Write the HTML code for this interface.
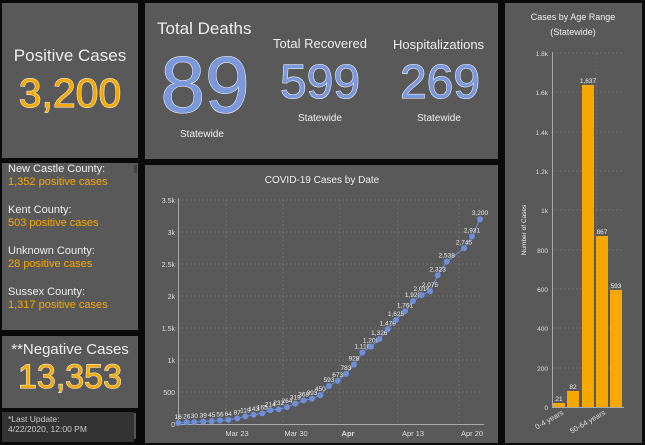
<!DOCTYPE html>
<html><head><meta charset="utf-8"><style>
body{margin:0;width:645px;height:445px;background:#0a0a0a;position:relative;overflow:hidden;font-family:"Liberation Sans",sans-serif;color:#eee}
.p{position:absolute;background:#595959}
.t{position:absolute;white-space:nowrap;text-align:center}
.big{font-weight:400;-webkit-text-stroke:1px #fff;paint-order:stroke fill}
.or{color:#f7a800}.bl{color:#7b98dc}
.cy{font-size:11px;line-height:13px;margin-bottom:15px}
</style></head><body>
<div class="p" style="left:2px;top:3px;width:136px;height:155px"></div>
<div class="t" style="left:2px;top:46px;width:136px;font-size:17px">Positive Cases</div>
<div class="t big or" style="left:2px;top:70px;width:136px;font-size:41px">3,200</div>

<div class="p" style="left:145px;top:3px;width:353px;height:156px"></div>
<div class="t" style="left:157px;top:19px;font-size:17px">Total Deaths</div>
<div class="t big bl" style="left:155px;top:40px;width:100px;font-size:80px;line-height:90px">89</div>
<div class="t" style="left:180px;top:129px;font-size:10px">Statewide</div>
<div class="t" style="left:273px;top:36px;font-size:13px">Total Recovered</div>
<div class="t big bl" style="left:270px;top:55px;width:100px;font-size:48px;line-height:56px">599</div>
<div class="t" style="left:298px;top:113px;font-size:10px">Statewide</div>
<div class="t" style="left:393px;top:37px;font-size:13px">Hospitalizations</div>
<div class="t big bl" style="left:390px;top:55px;width:100px;font-size:48px;line-height:56px">269</div>
<div class="t" style="left:417px;top:113px;font-size:10px">Statewide</div>

<div class="p" style="left:2px;top:163px;width:136px;height:167px"></div>
<div style="position:absolute;left:8px;top:163px">
<div class="cy">New Castle County:<br><span class="or">1,352 positive cases</span></div>
<div class="cy">Kent County:<br><span class="or">503 positive cases</span></div>
<div class="cy">Unknown County:<br><span class="or">28 positive cases</span></div>
<div class="cy">Sussex County:<br><span class="or">1,317 positive cases</span></div>
</div>
<div style="position:absolute;left:134px;top:165px;width:3px;height:8px;background:#444"></div>

<div class="p" style="left:2px;top:336px;width:136px;height:72px"></div>
<div class="t" style="left:2px;top:341px;width:136px;font-size:15px">**Negative Cases</div>
<div class="t big or" style="left:2px;top:358px;width:136px;font-size:34px">13,353</div>

<div class="p" style="left:2px;top:412px;width:132px;height:30px;background:#333"></div>
<div style="position:absolute;left:134px;top:413px;width:2px;height:26px;background:#555"></div>
<div style="position:absolute;left:8px;top:414px;font-size:8.5px;line-height:10px;color:#ccc">*Last Update:<br>4/22/2020, 12:00 PM</div>

<div class="p" style="left:145px;top:165px;width:353px;height:278px"></div>
<div class="p" style="left:505px;top:3px;width:137px;height:440px"></div>

<svg width="645" height="445" style="position:absolute;left:0;top:0" font-family="Liberation Sans,sans-serif">
<text x="322" y="183" fill="#eee" font-size="10" text-anchor="middle">COVID-19 Cases by Date</text>
<g stroke="#777" stroke-dasharray="2,2" stroke-width="0.7">
<line x1="178" x2="482" y1="200" y2="200"/><line x1="178" x2="482" y1="232" y2="232"/><line x1="178" x2="482" y1="264" y2="264"/><line x1="178" x2="482" y1="296" y2="296"/><line x1="178" x2="482" y1="328" y2="328"/><line x1="178" x2="482" y1="360" y2="360"/><line x1="178" x2="482" y1="392" y2="392"/>
<line x1="226" x2="226" y1="200" y2="424"/><line x1="283" x2="283" y1="200" y2="424"/><line x1="340" x2="340" y1="200" y2="424"/><line x1="398" x2="398" y1="200" y2="424"/><line x1="459" x2="459" y1="200" y2="424"/>
</g>
<line x1="178.5" x2="178.5" y1="198" y2="424" stroke="#aaa"/>
<line x1="178" x2="484" y1="424.5" y2="424.5" stroke="#aaa"/>
<g fill="#ddd" font-size="7" text-anchor="end">
<text x="175" y="427">0</text><text x="175" y="395">500</text><text x="175" y="363">1k</text><text x="175" y="331">1.5k</text><text x="175" y="299">2k</text><text x="175" y="267">2.5k</text><text x="175" y="235">3k</text><text x="175" y="203">3.5k</text>
</g>
<g fill="#ddd" font-size="7.5" text-anchor="middle">
<text x="237" y="436">Mar 23</text><text x="296" y="436">Mar 30</text><text x="348" y="436" font-weight="bold">Apr</text><text x="413" y="436">Apr 13</text><text x="472" y="436">Apr 20</text>
</g>
<g id="line"></g>
<text x="573" y="20" fill="#eee" font-size="9" text-anchor="middle">Cases by Age Range</text>
<text x="573" y="35" fill="#eee" font-size="9" text-anchor="middle">(Statewide)</text>
<g stroke="#777" stroke-dasharray="2,2" stroke-width="0.7">
<line x1="552" x2="624" y1="53" y2="53"/><line x1="552" x2="624" y1="92" y2="92"/><line x1="552" x2="624" y1="132" y2="132"/><line x1="552" x2="624" y1="171" y2="171"/><line x1="552" x2="624" y1="210" y2="210"/><line x1="552" x2="624" y1="250" y2="250"/><line x1="552" x2="624" y1="289" y2="289"/><line x1="552" x2="624" y1="328" y2="328"/><line x1="552" x2="624" y1="368" y2="368"/>
<line x1="596" x2="596" y1="53" y2="407"/>
</g>
<line x1="552.5" x2="552.5" y1="52" y2="408" stroke="#aaa"/>
<line x1="552" x2="624" y1="407.5" y2="407.5" stroke="#aaa"/>
<g fill="#ddd" font-size="6.5" text-anchor="end">
<text x="548" y="410">0</text><text x="548" y="371">200</text><text x="548" y="331">400</text><text x="548" y="292">600</text><text x="548" y="253">800</text><text x="548" y="213">1k</text><text x="548" y="174">1.2k</text><text x="548" y="135">1.4k</text><text x="548" y="95">1.6k</text><text x="548" y="56">1.8k</text>
</g>
<text transform="translate(526,230) rotate(-90)" fill="#eee" font-size="6.5" text-anchor="middle">Number of Cases</text>
<g fill="#f7a800">
<rect x="553" y="403" width="12" height="4"/><rect x="567" y="391" width="12" height="16"/><rect x="582" y="85" width="12" height="322"/><rect x="596" y="236" width="12" height="171"/><rect x="610" y="290" width="12" height="117"/>
</g>
<g fill="#eee" font-size="6.5" text-anchor="middle">
<text x="559" y="401">21</text><text x="573" y="389">82</text><text x="588" y="83">1,637</text><text x="602" y="234">867</text><text x="616" y="288">593</text>
</g>
<g fill="#ddd" font-size="7.5" text-anchor="end">
<text transform="translate(564,414) rotate(-30)">0-4 years</text>
<text transform="translate(606,414) rotate(-30)">50-64 years</text>
</g>
</svg>
<script>
var d=[[115,16],[140,26],[163,30],[190,39],[215,45],[240,56],[265,64],[292,87],[316,119],[341,143],[367,165],[391,214],[416,232],[441,264],[466,319],[491,368],[516,393],[541,450],[567,593],[593,673],[618,783],[642,928],[667,1116],[693,1209],[718,1326],[743,1479],[768,1625],[795,1761],[819,1920],[845,2014],[870,2075],[893,2323],[920,2538],[972,2745],[996,2931],[1020,3200]];
var s='',pts=[];
d.forEach(function(p){var x=140+p[0]/3,y=424-p[1]*0.064;pts.push(x.toFixed(1)+','+y.toFixed(1));
s+='<circle cx="'+x.toFixed(1)+'" cy="'+y.toFixed(1)+'" r="3" fill="#6f8fdc"/>';
s+='<text x="'+x.toFixed(1)+'" y="'+(y-4).toFixed(1)+'" fill="#eee" font-size="6.5" text-anchor="middle">'+p[1].toLocaleString('en-US')+'</text>';});
document.getElementById('line').innerHTML='<polyline points="'+pts.join(' ')+'" fill="none" stroke="#6f8fdc" stroke-width="1"/>'+s;
</script>
</body></html>
